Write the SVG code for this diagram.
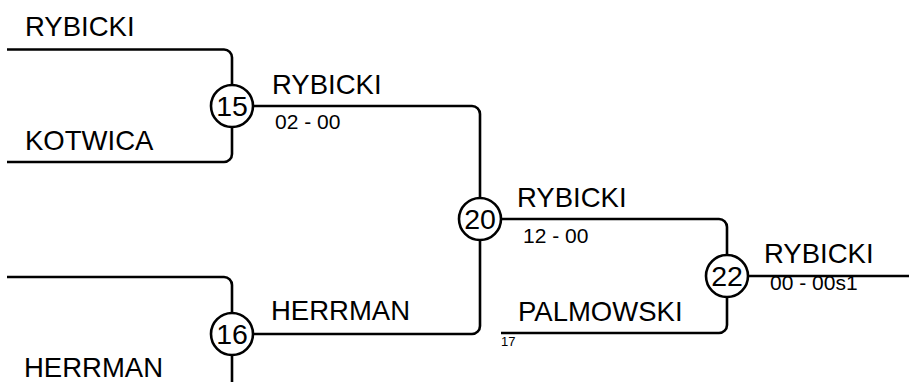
<svg xmlns="http://www.w3.org/2000/svg" width="909" height="382" viewBox="0 0 909 382">
<style>
.ln{fill:none;stroke:#000;stroke-width:2.6}
.nd circle{fill:#fff;stroke:#000;stroke-width:2.6}
.num{font-family:"Liberation Sans",Arial,sans-serif;font-size:28.5px;text-anchor:middle;fill:#000}
.name{font-family:"Liberation Sans",Arial,sans-serif;font-size:27.5px;fill:#000}
.score{font-family:"Liberation Sans",Arial,sans-serif;font-size:21px;fill:#000}
.seed{font-family:"Liberation Sans",Arial,sans-serif;font-size:13px;fill:#000}
</style>
<rect width="909" height="382" fill="#fff"/>
<g id="connectors" class="ln">
<path d="M7,49.5 H224 a8,8 0 0 1 8,8 V85"/>
<path d="M7,162 H224 a8,8 0 0 0 8,-8 V127"/>
<path d="M253,106 H472 a8,8 0 0 1 8,8 V198"/>
<path d="M253,334 H472 a8,8 0 0 0 8,-8 V240"/>
<path d="M7,277 H224 a8,8 0 0 1 8,8 V313"/>
<path d="M232,355 V392"/>
<path d="M501,219 H719 a8,8 0 0 1 8,8 V255"/>
<path d="M501,333 H719 a8,8 0 0 0 8,-8 V297"/>
<path d="M748,276 H909"/>
</g>
<g id="labels">
<text class="name" x="25" y="36">RYBICKI</text>
<text class="name" x="25" y="150">KOTWICA</text>
<text class="name" x="272" y="94">RYBICKI</text>
<text class="score" x="275" y="129">02 - 00</text>
<text class="name" x="271" y="320">HERRMAN</text>
<text class="name" x="24" y="377">HERRMAN</text>
<text class="name" x="517" y="207">RYBICKI</text>
<text class="score" x="523" y="243">12 - 00</text>
<text class="name" x="518" y="321">PALMOWSKI</text>
<text class="seed" x="501" y="346">17</text>
<text class="name" x="764" y="263">RYBICKI</text>
<text class="score" x="770" y="290">00 - 00s1</text>
</g>
<g id="node15" class="nd"><circle cx="232" cy="106" r="21"/><text class="num" x="232" y="116">15</text></g>
<g id="node16" class="nd"><circle cx="232" cy="334" r="21"/><text class="num" x="232" y="344">16</text></g>
<g id="node20" class="nd"><circle cx="480" cy="219" r="21"/><text class="num" x="480" y="229">20</text></g>
<g id="node22" class="nd"><circle cx="727" cy="276" r="21"/><text class="num" x="727" y="286">22</text></g>
</svg>
